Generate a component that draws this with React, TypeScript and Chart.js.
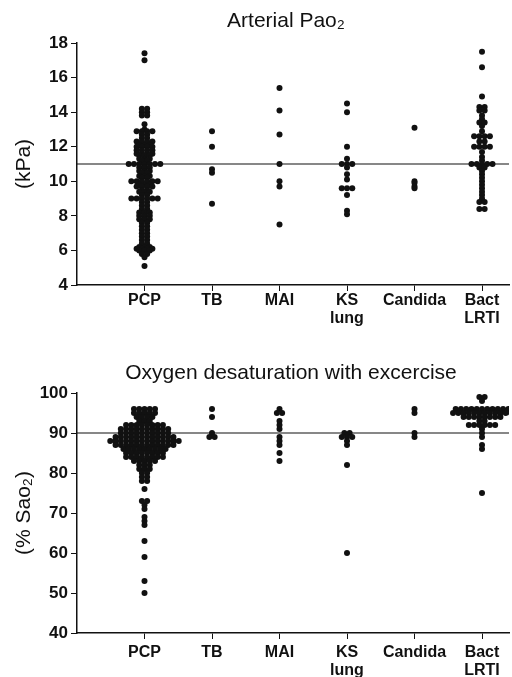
import React, { useEffect, useRef } from "react";
import { Chart, registerables } from "chart.js";

Chart.register(...registerables);

const FONT = "'Liberation Sans', Arial, Helvetica, sans-serif";

// ---------- data ----------
const categories: string[][] = [["PCP"], ["TB"], ["MAI"], ["KS", "lung"], ["Candida"], ["Bact", "LRTI"]];

const topTitle = "Arterial Pao\u2082";
const topAxisTitle = "(kPa)";
const bottomTitle = "Oxygen desaturation with excercise";
const bottomAxisTitle = "(% Sao\u2082)";

const pao2Ticks = [4, 6, 8, 10, 12, 14, 16, 18];
const sao2Ticks = [40, 50, 60, 70, 80, 90, 100];
const pao2Reference = 11;
const sao2Reference = 90;

const pao2PCP = [
  17.4, 17.0,
  14.2, 14.2, 14.0, 14.0, 13.8, 13.8,
  13.3, 13.0,
  12.9, 12.9, 12.9, 12.9,
  12.7, 12.7, 12.5, 12.5,
  12.3, 12.3, 12.3, 12.3,
  12.1, 12.1, 12.1,
  12.0, 12.0, 12.0, 12.0,
  11.8, 11.8, 11.8, 11.8,
  11.6, 11.6, 11.6, 11.6,
  11.5, 11.5, 11.5,
  11.3, 11.3, 11.3,
  11.2, 11.2,
  11.0, 11.0, 11.0, 11.0, 11.0, 11.0, 11.0,
  10.8, 10.8, 10.8, 10.6, 10.6, 10.6, 10.5, 10.5,
  10.3, 10.3, 10.3, 10.2, 10.2,
  10.0, 10.0, 10.0, 10.0, 10.0, 10.0,
  9.8, 9.8, 9.8, 9.7, 9.7, 9.7, 9.7,
  9.5, 9.5, 9.4, 9.4, 9.4, 9.2, 9.2,
  9.0, 9.0, 9.0, 9.0, 9.0, 9.0,
  8.8, 8.8, 8.6, 8.6, 8.4, 8.4, 8.2, 8.2, 8.2, 8.0, 8.0, 8.0,
  7.8, 7.8, 7.8, 7.6, 7.6, 7.4, 7.4, 7.2, 7.2, 7.0, 7.0,
  6.8, 6.8, 6.6, 6.6, 6.4, 6.4, 6.2, 6.2, 6.2,
  6.1, 6.1, 6.1, 6.1, 6.0, 6.0, 6.0, 5.8, 5.8, 5.6, 5.1,
];
const pao2TB = [12.9, 12.0, 10.7, 10.5, 8.7];
const pao2MAI = [15.4, 14.1, 12.7, 11.0, 10.0, 9.7, 7.5];
const pao2KS = [14.5, 14.0, 12.0, 11.3, 11.0, 11.0, 11.0, 10.8, 10.4, 10.1, 9.6, 9.6, 9.6, 9.2, 8.3, 8.1];
const pao2Candida = [13.1, 10.0, 9.9, 9.7, 9.6];
const pao2Bact = [
  17.5, 16.6, 14.9, 14.3, 14.3, 14.1, 14.1, 13.8, 13.6, 13.4, 13.4, 13.2, 12.9,
  12.6, 12.6, 12.6, 12.6, 12.3, 12.3, 12.0, 12.0, 12.0, 12.0, 11.7, 11.4, 11.2,
  11.0, 11.0, 11.0, 11.0, 11.0, 10.8, 10.8, 10.6, 10.4, 10.2, 10.0, 9.8, 9.6,
  9.4, 9.2, 9.0, 8.8, 8.8, 8.4, 8.4,
];

const sao2PCP = [
  96, 96, 96, 96, 96, 95, 95, 95, 95, 95, 94, 94, 94, 94, 93, 93, 93,
  92, 92, 92, 92, 92, 92, 92, 92,
  91, 91, 91, 91, 91, 91, 91, 91, 91, 91,
  90, 90, 90, 90, 90, 90, 90, 90, 90, 90,
  89, 89, 89, 89, 89, 89, 89, 89, 89, 89, 89, 89,
  88, 88, 88, 88, 88, 88, 88, 88, 88, 88, 88, 88, 88, 88,
  87, 87, 87, 87, 87, 87, 87, 87, 87, 87, 87, 87,
  86, 86, 86, 86, 86, 86, 86, 86, 86,
  85, 85, 85, 85, 85, 85, 85, 85,
  84, 84, 84, 84, 84, 84, 84, 84,
  83, 83, 83, 83, 83, 82, 82, 82, 81, 81, 81, 80, 80, 79, 79, 78, 78,
  76, 73, 73, 72, 71, 69, 68, 67, 63, 59, 53, 50,
];
const sao2TB = [96, 94, 90, 89, 89];
const sao2MAI = [96, 95, 95, 93, 92, 91, 89, 88, 87, 85, 83];
const sao2KS = [90, 90, 89, 89, 89, 88, 87, 82, 60];
const sao2Candida = [96, 95, 90, 89];
const sao2Bact = [
  99, 99, 98,
  96, 96, 96, 96, 96, 96, 96, 96, 96, 96, 96,
  95, 95, 95, 95, 95, 95, 95, 95, 95, 95, 95, 95,
  94, 94, 94, 94, 94, 94, 94, 94,
  93, 93, 92, 92, 92, 92, 92, 92, 91, 90, 89, 87, 86, 75,
];

const pao2Groups = [pao2PCP, pao2TB, pao2MAI, pao2KS, pao2Candida, pao2Bact];
const sao2Groups = [sao2PCP, sao2TB, sao2MAI, sao2KS, sao2Candida, sao2Bact];

// ---------- helpers ----------
function swarm(groups: number[][], step: number) {
  const pts: { x: number; y: number }[] = [];
  groups.forEach((vals, ci) => {
    const counts = new Map<number, number>();
    vals.forEach((v) => counts.set(v, (counts.get(v) || 0) + 1));
    const seen = new Map<number, number>();
    vals.forEach((v) => {
      const n = counts.get(v)!;
      const i = seen.get(v) || 0;
      seen.set(v, i + 1);
      pts.push({ x: ci + (i - (n - 1) / 2) * step, y: v });
    });
  });
  return pts;
}

const titlePlugin = {
  id: "fixedTitle",
  afterDraw(chart: any, _args: any, opts: any) {
    const ctx = chart.ctx;
    ctx.save();
    ctx.font = `${opts.size}px ${FONT}`;
    ctx.fillStyle = "#111";
    ctx.textAlign = "center";
    ctx.textBaseline = "middle";
    ctx.fillText(opts.text, opts.x, opts.y);
    ctx.restore();
  },
};

const X_MIN = -1;
const X_MAX = 5.4;

function makeConfig(p: {
  groups: number[][];
  ticks: number[];
  reference: number;
  title: string;
  titleX: number;
  titleY: number;
  axisTitle: string;
  areaTop: number;
  xHeight: number;
  labelPad: number;
}): any {
  const yMin = p.ticks[0];
  const yMax = p.ticks[p.ticks.length - 1];
  return {
    type: "scatter",
    data: {
      datasets: [
        {
          data: swarm(p.groups, 0.078),
          pointRadius: 3,
          pointHoverRadius: 3,
          backgroundColor: "#111",
          borderWidth: 0,
        },
        {
          data: [
            { x: X_MIN, y: p.reference },
            { x: X_MAX, y: p.reference },
          ],
          showLine: true,
          pointRadius: 0,
          borderColor: "#111",
          borderWidth: 1.2,
        },
      ],
    },
    plugins: [titlePlugin],
    options: {
      responsive: false,
      animation: false,
      events: [],
      layout: { padding: { top: p.areaTop, left: 0, right: 0, bottom: 0 } },
      plugins: {
        legend: { display: false },
        tooltip: { enabled: false },
        fixedTitle: { text: p.title, x: p.titleX, y: p.titleY, size: 21 },
      },
      scales: {
        x: {
          type: "linear",
          min: X_MIN,
          max: X_MAX,
          afterBuildTicks: (scale: any) => {
            scale.ticks = categories.map((_, i) => ({ value: i }));
          },
          afterFit: (scale: any) => {
            scale.height = p.xHeight;
          },
          ticks: {
            autoSkip: false,
            maxRotation: 0,
            minRotation: 0,
            padding: p.labelPad,
            color: "#111",
            font: { family: FONT, size: 16, weight: "bold", lineHeight: 1.15 },
            callback: (v: number) => categories[Math.round(v)] ?? "",
          },
          grid: { display: true, drawOnChartArea: false, drawTicks: true, tickLength: 6, color: "#111", lineWidth: 1 },
          border: { display: true, color: "#111", width: 1.5 },
        },
        y: {
          type: "linear",
          min: yMin,
          max: yMax,
          afterBuildTicks: (scale: any) => {
            scale.ticks = p.ticks.map((v) => ({ value: v }));
          },
          afterFit: (scale: any) => {
            scale.width = 77;
          },
          ticks: {
            padding: 3,
            color: "#111",
            font: { family: FONT, size: 17, weight: "bold" },
            callback: (v: number) => String(v),
          },
          title: {
            display: true,
            text: p.axisTitle,
            color: "#111",
            font: { family: FONT, size: 21, lineHeight: 1.2 },
            padding: { top: 12, bottom: 0 },
          },
          grid: { display: true, drawOnChartArea: false, drawTicks: true, tickLength: 6, color: "#111", lineWidth: 1 },
          border: { display: true, color: "#111", width: 1.5 },
        },
      },
    },
  };
}

export default function App() {
  const topRef = useRef<HTMLCanvasElement>(null);
  const bottomRef = useRef<HTMLCanvasElement>(null);

  useEffect(() => {
    const c1 = new Chart(
      topRef.current!,
      makeConfig({
        groups: pao2Groups,
        ticks: pao2Ticks,
        reference: pao2Reference,
        title: topTitle,
        titleX: 286,
        titleY: 21,
        axisTitle: topAxisTitle,
        areaTop: 43,
        xHeight: 55,
        labelPad: 0,
      })
    );
    const c2 = new Chart(
      bottomRef.current!,
      makeConfig({
        groups: sao2Groups,
        ticks: sao2Ticks,
        reference: sao2Reference,
        title: bottomTitle,
        titleX: 291,
        titleY: 33,
        axisTitle: bottomAxisTitle,
        areaTop: 53,
        xHeight: 44,
        labelPad: 4,
      })
    );
    return () => {
      c1.destroy();
      c2.destroy();
    };
  }, []);

  return (
    <div style={{ position: "absolute", left: 0, top: 0, width: 512, height: 677, background: "#fff" }}>
      <canvas ref={topRef} width={512} height={340} style={{ display: "block" }} />
      <canvas ref={bottomRef} width={512} height={337} style={{ display: "block" }} />
    </div>
  );
}
